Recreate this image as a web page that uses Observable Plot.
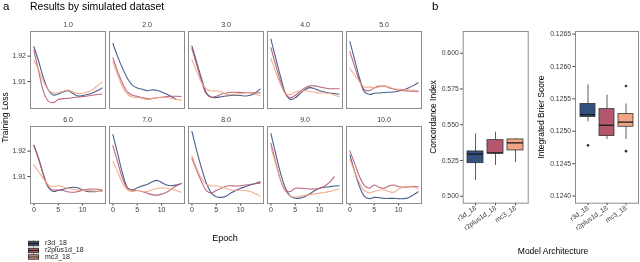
<!DOCTYPE html>
<html><head><meta charset="utf-8">
<script src="https://cdn.jsdelivr.net/npm/d3@7"></script>
<script src="https://cdn.jsdelivr.net/npm/@observablehq/plot@0.6"></script>
<style>
body{margin:0;background:#fff;font-family:"Liberation Sans",Arial,sans-serif;}
#wrap{position:relative;width:640px;height:262px;overflow:hidden;background:#fff;}
#wrap > svg{position:absolute;will-change:transform;}
#overlay{left:0;top:0;pointer-events:none;}
</style></head><body><div id="wrap">
<svg id="overlay" width="640" height="262" font-family="Liberation Sans, Arial, sans-serif">
  <text x="3" y="7" dominant-baseline="middle" font-size="11.5">a</text>
  <text x="30" y="7" dominant-baseline="middle" font-size="10.5">Results by simulated dataset</text>
  <text x="432" y="7" dominant-baseline="middle" font-size="11.5">b</text>
  <text transform="translate(5.5,117.5) rotate(-90)" text-anchor="middle" dominant-baseline="middle" font-size="8.5">Training Loss</text>
  <text x="225" y="239" text-anchor="middle" dominant-baseline="middle" font-size="9">Epoch</text>
  <text transform="translate(434,117) rotate(-90)" text-anchor="middle" dominant-baseline="middle" font-size="8.5">Concordance Index</text>
  <text transform="translate(542,117) rotate(-90)" text-anchor="middle" dominant-baseline="middle" font-size="8.5">Integrated Brier Score</text>
  <text x="553" y="251.5" text-anchor="middle" dominant-baseline="middle" font-size="8.5">Model Architecture</text>
  <g id="legend"></g>
</svg>
</div>
<script>
const models = ["r3d_18", "r2plus1d_18", "mc3_18"];
const modelColors = ["#34507f", "#b5566f", "#f2a583"];
const datasets = ["1.0", "2.0", "3.0", "4.0", "5.0", "6.0", "7.0", "8.0", "9.0", "10.0"];
const epochs = [0, 1, 2, 3, 4, 5, 6, 7, 8, 9, 10, 11, 12, 13, 14];
const lossTicks = [1.91, 1.92];

// training loss per dataset (rows) and epoch (columns)
const lossR3d18 = [
  [1.9237,1.9178,1.9112,1.9066,1.9047,1.9051,1.9059,1.9064,1.9053,1.9043,1.9045,1.9049,1.9055,1.9064,1.9075],
  [1.9250,1.9197,1.9151,1.9112,1.9086,1.9075,1.9070,1.9064,1.9067,1.9066,1.9059,1.9051,1.9041,1.9030,null],
  [1.9240,1.9175,1.9110,1.9055,1.9038,1.9037,1.9040,1.9043,1.9045,1.9046,1.9045,1.9043,1.9046,1.9055,1.9070],
  [1.9267,1.9191,1.9118,1.9053,1.9029,1.9036,1.9053,1.9068,1.9076,1.9072,1.9064,1.9059,1.9055,1.9053,1.9050],
  [1.9257,1.9184,1.9112,1.9059,1.9049,1.9054,1.9055,1.9057,1.9058,1.9059,1.9063,1.9068,1.9075,1.9084,1.9095],
  [1.9223,1.9169,1.9105,1.9056,1.9041,1.9046,1.9050,1.9054,1.9058,1.9056,1.9047,1.9041,1.9040,1.9041,1.9044],
  [1.9265,1.9188,1.9112,1.9056,1.9047,1.9056,1.9063,1.9069,1.9079,1.9085,1.9077,1.9067,1.9064,1.9067,1.9072],
  [1.9278,1.9201,1.9131,1.9073,1.9035,1.9021,1.9018,1.9023,1.9035,1.9045,1.9054,1.9060,1.9067,1.9073,1.9079],
  [1.9269,1.9188,1.9112,1.9054,1.9023,1.9015,1.9015,1.9022,1.9032,1.9045,1.9054,1.9058,1.9060,1.9063,1.9064],
  [1.9185,1.9118,1.9060,1.9022,1.9013,1.9018,1.9017,1.9014,1.9014,1.9014,1.9013,1.9013,1.9017,1.9027,1.9040]
];
const lossR2plus1d18 = [
  [1.9224,1.9138,1.9059,1.9022,1.9017,1.9029,1.9033,1.9034,1.9037,1.9039,1.9041,1.9043,1.9046,1.9049,1.9051],
  [1.9193,1.9138,1.9092,1.9059,1.9046,1.9042,1.9037,1.9033,1.9033,1.9036,1.9038,1.9041,1.9042,1.9042,1.9041],
  [1.9230,1.9165,1.9100,1.9050,1.9038,1.9042,1.9050,1.9055,1.9058,1.9058,1.9057,1.9056,1.9056,1.9056,1.9055],
  [1.9233,1.9164,1.9099,1.9050,1.9036,1.9046,1.9062,1.9075,1.9083,1.9083,1.9079,1.9075,1.9072,1.9072,1.9072],
  [1.9217,1.9158,1.9101,1.9068,1.9064,1.9075,1.9082,1.9082,1.9076,1.9070,1.9066,1.9064,1.9063,1.9062,1.9061],
  [1.9223,1.9167,1.9103,1.9060,1.9047,1.9047,1.9045,1.9040,1.9038,1.9041,1.9046,1.9050,1.9051,1.9050,1.9046],
  [1.9221,1.9156,1.9092,1.9054,1.9046,1.9045,1.9041,1.9035,1.9029,1.9027,1.9031,1.9038,1.9050,1.9063,1.9073],
  [1.9172,1.9124,1.9079,1.9044,1.9036,1.9045,1.9054,1.9062,1.9064,1.9063,1.9064,1.9067,1.9069,1.9072,1.9074],
  [1.9231,1.9156,1.9086,1.9045,1.9041,1.9054,1.9054,1.9053,1.9051,1.9051,1.9054,1.9062,1.9077,1.9099,null],
  [1.9201,1.9150,1.9099,1.9064,1.9054,1.9067,1.9058,1.9054,1.9063,1.9067,1.9060,1.9058,1.9059,1.9062,1.9060]
];
const lossMc318 = [
  [1.9184,1.9145,1.9099,1.9066,1.9055,1.9057,1.9062,1.9067,1.9059,1.9053,1.9054,1.9059,1.9068,1.9083,1.9099],
  [1.9178,1.9125,1.9079,1.9050,1.9039,1.9037,1.9034,1.9030,1.9033,1.9037,1.9038,1.9037,1.9034,1.9030,1.9026],
  [1.9185,1.9140,1.9095,1.9070,1.9063,1.9064,1.9060,1.9050,1.9048,1.9050,1.9053,1.9056,1.9055,1.9050,1.9044],
  [1.9191,1.9138,1.9088,1.9053,1.9049,1.9059,1.9063,1.9064,1.9062,1.9058,1.9055,1.9055,1.9053,1.9047,1.9041],
  [1.9151,1.9125,1.9099,1.9078,1.9079,1.9075,1.9079,1.9083,1.9079,1.9072,1.9070,1.9068,1.9067,1.9066,1.9064],
  [1.9146,1.9118,1.9090,1.9067,1.9060,1.9064,1.9059,1.9054,1.9050,1.9047,1.9046,1.9045,1.9044,1.9042,1.9041],
  [1.9159,1.9118,1.9073,1.9047,1.9041,1.9045,1.9041,1.9041,1.9047,1.9053,1.9055,1.9054,1.9050,1.9045,1.9038],
  [1.9182,1.9131,1.9092,1.9069,1.9063,1.9063,1.9060,1.9054,1.9047,1.9046,1.9046,1.9045,1.9041,1.9033,1.9023],
  [1.9214,1.9150,1.9086,1.9041,1.9023,1.9019,1.9022,1.9026,1.9029,1.9032,1.9035,1.9037,1.9041,1.9046,1.9050],
  [1.9169,1.9118,1.9073,1.9044,1.9036,1.9041,1.9046,1.9047,1.9041,1.9038,1.9050,1.9059,1.9060,1.9059,1.9053]
];

// panel b: box summaries per model
const ciTicks = [0.500, 0.525, 0.550, 0.575, 0.600];
const ciLow = [0.5110, 0.5215, 0.5234];
const ciQ1 = [0.5231, 0.5299, 0.5320];
const ciMedian = [0.5294, 0.5302, 0.5373];
const ciQ3 = [0.5313, 0.5392, 0.5397];
const ciHigh = [0.5436, 0.5448, 0.5403];

const brierTicks = [0.1240, 0.1245, 0.1250, 0.1255, 0.1260, 0.1265];
const brierLow = [0.125145, 0.124874, 0.124874];
const brierQ1 = [0.125220, 0.124927, 0.125070];
const brierMedian = [0.125257, 0.125093, 0.125141];
const brierQ3 = [0.125422, 0.125342, 0.125268];
const brierHigh = [0.125716, 0.125556, 0.125422];
const brierOutlierModel = ["r3d_18", "mc3_18", "mc3_18"];
const brierOutlierValue = [0.124783, 0.125700, 0.124693];

const FONT = "Liberation Sans, Arial, sans-serif";
const wrap = document.getElementById("wrap");
const overlay = document.getElementById("overlay");

const lossByModel = {r3d_18: lossR3d18, r2plus1d_18: lossR2plus1d18, mc3_18: lossMc318};
const lossRows = [];
models.forEach(m => datasets.forEach((d, i) => epochs.forEach((e, j) => {
  const v = lossByModel[m][i][j];
  if (v != null) lossRows.push({model: m, dataset: d, epoch: e, loss: v});
})));

function place(svg, left, top) {
  svg.style.left = left + "px";
  svg.style.top = top + "px";
  wrap.insertBefore(svg, overlay);
}

function rowPlot(dsets, showX, top) {
  const mt = 17, inner = 77, mb = showX ? 14 : 2;
  const svg = Plot.plot({
    width: 430, height: mt + inner + mb,
    marginLeft: 29, marginRight: 8.7, marginTop: mt, marginBottom: mb,
    style: {fontSize: "7px", fontFamily: FONT, color: "#3a3a3a", background: "transparent"},
    fx: {domain: dsets, paddingInner: 0.054, paddingOuter: 0, label: null, axis: "top", tickPadding: 4.5},
    x: {domain: [-0.7, 14.7], ticks: [0, 5, 10], tickSize: 2.5, tickPadding: 1.5, label: null, axis: showX ? "bottom" : null},
    y: {domain: [1.8994, 1.9297], ticks: lossTicks, tickFormat: ".2f", tickSize: 2.5, tickPadding: 2, label: null},
    color: {domain: models, range: modelColors},
    marks: [
      Plot.frame({stroke: "#8c8c8c", strokeWidth: 1}),
      Plot.line(lossRows.filter(r => dsets.includes(r.dataset)), {
        x: "epoch", y: "loss", z: "model", stroke: "model", fx: "dataset",
        curve: "catmull-rom", strokeWidth: 1.1, strokeOpacity: 0.9
      })
    ]
  });
  place(svg, 0, top);
}

rowPlot(datasets.slice(0, 5), false, 14);
rowPlot(datasets.slice(5), true, 109);

function boxPlot(opts) {
  const rows = models.map((m, i) => ({model: m, lo: opts.lo[i], q1: opts.q1[i], med: opts.med[i], q3: opts.q3[i], hi: opts.hi[i]}));
  const outs = (opts.outModel || []).map((m, i) => ({model: m, value: opts.outValue[i]}));
  const svg = Plot.plot({
    width: opts.width, height: 240,
    marginLeft: opts.ml, marginRight: opts.mr, marginTop: 31, marginBottom: 37.3,
    style: {fontSize: "6.8px", fontFamily: FONT, color: "#3a3a3a", background: "transparent"},
    x: {domain: models, type: "band", paddingInner: 0.2, paddingOuter: 0.2, tickRotate: -35, tickSize: 2.5, tickPadding: 1.5, label: null},
    y: {domain: opts.domain, ticks: opts.ticks, tickFormat: opts.fmt, tickSize: 2.5, tickPadding: 2, label: null},
    color: {domain: models, range: modelColors},
    marks: [
      Plot.frame({stroke: "#8c8c8c", strokeWidth: 1}),
      Plot.ruleX(rows, {x: "model", y1: "lo", y2: "hi", stroke: "#333", strokeWidth: 0.8}),
      Plot.barY(rows, {x: "model", y1: "q1", y2: "q3", fill: "model", stroke: "#333", strokeWidth: 0.8}),
      Plot.tickY(rows, {x: "model", y: "med", stroke: "#1a1a1a", strokeWidth: 1.3}),
      Plot.dot(outs, {x: "model", y: "value", r: 1.3, fill: "#333", stroke: null})
    ]
  });
  place(svg, opts.left, 0);
}

boxPlot({left: 400, width: 135, ml: 62.7, mr: 7.3, domain: [0.4951, 0.6152], ticks: ciTicks, fmt: ".3f",
  lo: ciLow, q1: ciQ1, med: ciMedian, q3: ciQ3, hi: ciHigh});
boxPlot({left: 535, width: 105, ml: 40, mr: 2, domain: [0.12389, 0.12654], ticks: brierTicks, fmt: ".4f",
  lo: brierLow, q1: brierQ1, med: brierMedian, q3: brierQ3, hi: brierHigh,
  outModel: brierOutlierModel, outValue: brierOutlierValue});

// legend (boxplot key glyphs)
const legend = d3.select("#legend");
const legendY = [243.5, 250.5, 257];
models.forEach((m, i) => {
  const g = legend.append("g").attr("transform", `translate(28.5,${legendY[i]})`);
  g.append("line").attr("x1", 5).attr("x2", 5).attr("y1", -3).attr("y2", 3).attr("stroke", "#333").attr("stroke-width", 0.8);
  g.append("rect").attr("x", 0).attr("y", -2.2).attr("width", 10).attr("height", 4.4)
    .attr("fill", modelColors[i]).attr("stroke", "#333").attr("stroke-width", 1);
  g.append("line").attr("x1", 0).attr("x2", 10).attr("y1", 0).attr("y2", 0).attr("stroke", "#1a1a1a").attr("stroke-width", 1);
  legend.append("text").attr("x", 45).attr("y", legendY[i]).attr("dominant-baseline", "middle")
    .attr("font-size", 7).attr("fill", "#1a1a1a").text(m);
});
</script>
</body></html>
